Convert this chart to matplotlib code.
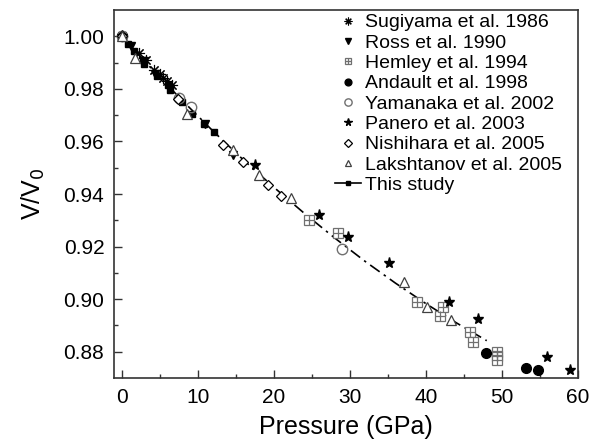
import numpy as np
import matplotlib
matplotlib.use('Agg')
import matplotlib.pyplot as plt
from matplotlib.lines import Line2D
from matplotlib.legend_handler import HandlerTuple

plt.rcParams['font.family'] = ['Liberation Sans', 'DejaVu Sans']

# data (pressure in GPa, V/V0)
sug_p = [0.0, 2.3, 3.2, 4.3, 5.0, 5.5, 6.0, 6.6]
sug_v = [1.000, 0.9935, 0.9910, 0.9870, 0.9855, 0.9840, 0.9828, 0.9815]

ross_p = [0.0, 1.2, 2.9, 4.4, 6.3, 10.9, 14.6]
ross_v = [1.000, 0.9962, 0.9905, 0.9858, 0.9800, 0.9665, 0.9550]

hem_p = [24.6, 28.4, 38.8, 41.9, 42.2, 45.75, 46.2, 49.3, 49.3, 49.3]
hem_v = [0.9301, 0.9250, 0.8990, 0.8936, 0.8969, 0.8876, 0.8838, 0.8800, 0.8785, 0.8770]

and_p = [0.0, 47.9, 53.1, 54.7]
and_v = [1.000, 0.8796, 0.8739, 0.8731]

yam_p = [0.0, 7.5, 9.1, 29.0]
yam_v = [1.000, 0.9765, 0.9732, 0.9189]

pan_p = [0.0, 17.6, 25.9, 29.8, 35.1, 43.1, 46.8, 55.9, 59.0]
pan_v = [1.000, 0.9510, 0.9320, 0.9237, 0.9138, 0.8990, 0.8923, 0.8781, 0.8731]

nis_p = [0.0, 7.4, 13.3, 15.9, 19.3, 21.0]
nis_v = [1.000, 0.9763, 0.9588, 0.9522, 0.9434, 0.9392]

lak_p = [0.0, 1.8, 8.6, 14.6, 18.1, 22.3, 37.1, 40.2, 43.3]
lak_v = [1.000, 0.9919, 0.9706, 0.9567, 0.9474, 0.9383, 0.9066, 0.8971, 0.8921]

this_p = [0.0, 0.79, 1.58, 2.76, 3.0, 4.6, 6.05, 6.37, 7.95, 9.26, 10.88, 12.2]
this_v = [1.000, 0.9972, 0.9944, 0.9909, 0.9896, 0.9848, 0.9814, 0.9797, 0.9750, 0.9706, 0.9668, 0.9634]

fit_p = [0, 4, 8, 12, 16, 20, 24, 28, 32, 36, 40, 44, 48]
fit_v = [1.0, 0.9875, 0.9755, 0.9640, 0.9530, 0.9426, 0.9327, 0.9233, 0.9144,
         0.9061, 0.8983, 0.8910, 0.8842]

fig = plt.figure(figsize=(5.97, 4.44), dpi=100)
ax = fig.add_axes([114 / 597, 66 / 444, 464 / 597, 368 / 444])

gray = '#707070'
ax.plot(fit_p, fit_v, color='k', lw=1.2, ls=(0, (7, 3, 1.5, 3)), zorder=2)
ax.plot(this_p, this_v, 's', color='k', ms=5, zorder=3)
h_sug, = ax.plot(sug_p, sug_v, ls='none', marker=(8, 2, 0), ms=8, mec='k', mew=0.8, zorder=4)
h_ross, = ax.plot(ross_p, ross_v, 'v', color='k', ms=6, zorder=4)
h_hem1, = ax.plot(hem_p, hem_v, 's', mfc='white', mec=gray, ms=6.5, mew=0.9, zorder=4)
h_hem2, = ax.plot(hem_p, hem_v, '+', mec=gray, ms=6.5, mew=0.9, zorder=5)
h_and, = ax.plot(and_p, and_v, 'o', color='k', ms=7, zorder=4)
h_yam, = ax.plot(yam_p, yam_v, 'o', mfc='none', mec=gray, ms=7.5, mew=1.0, zorder=4)
h_pan, = ax.plot(pan_p, pan_v, '*', color='k', ms=8, zorder=4)
h_nis, = ax.plot(nis_p, nis_v, 'D', mfc='white', mec='k', ms=5.5, mew=0.9, zorder=4)
h_lak, = ax.plot(lak_p, lak_v, '^', mfc='white', mec='#404040', ms=7, mew=0.9, zorder=4)

ax.set_xlim(-1, 60)
ax.set_ylim(0.87, 1.01)
ax.set_xticks(np.arange(0, 61, 10))
ax.set_xticks(np.arange(5, 60, 10), minor=True)
ax.set_yticks(np.arange(0.88, 1.001, 0.02))
ax.set_yticks(np.arange(0.89, 1.001, 0.02), minor=True)
ax.yaxis.set_major_formatter(plt.FormatStrFormatter('%.2f'))
ax.tick_params(which='both', direction='in', top=False, right=False,
               labelsize=15, color='#333333', width=1.0)
ax.tick_params(which='major', length=6, pad=7)
ax.tick_params(which='minor', length=3)
for s in ax.spines.values():
    s.set_color('#333333')
    s.set_linewidth(1.2)

ax.set_xlabel('Pressure (GPa)', fontsize=18, labelpad=6)
ax.set_ylabel('V/V$_0$', fontsize=18, labelpad=12)

h_this = Line2D([], [], color='k', ls='-', lw=1.2, marker='s', ms=4)
handles = [h_sug, h_ross, (h_hem1, h_hem2), h_and, h_yam, h_pan, h_nis, h_lak, h_this]
labels = ['Sugiyama et al. 1986', 'Ross et al. 1990', 'Hemley et al. 1994',
          'Andault et al. 1998', 'Yamanaka et al. 2002', 'Panero et al. 2003',
          'Nishihara et al. 2005', 'Lakshtanov et al. 2005', 'This study']
fig.legend(handles, labels, loc='upper left', bbox_to_anchor=(325 / 597, 1 - 4 / 444),
           frameon=False, fontsize=14, borderpad=0, handlelength=1.35,
           handletextpad=0.2, labelspacing=0.14, markerscale=0.7,
           handler_map={tuple: HandlerTuple(ndivide=1)})

fig.savefig('out.png', dpi=100)
